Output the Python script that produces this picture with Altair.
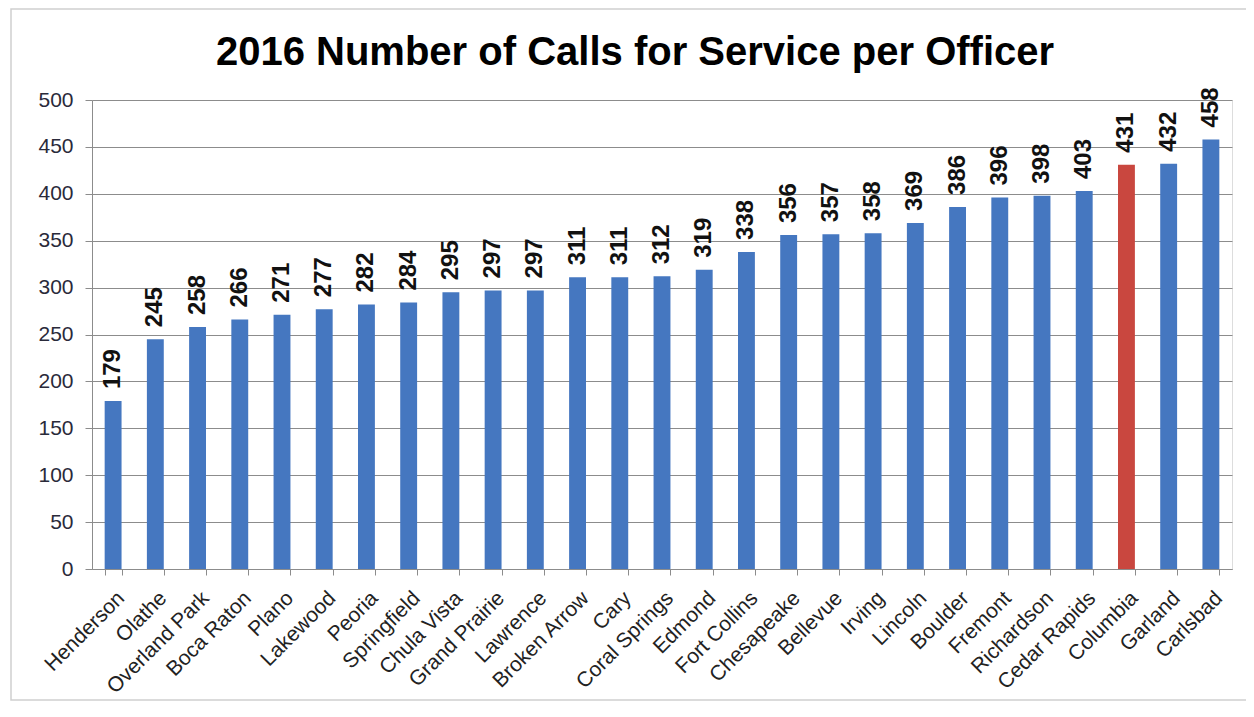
import altair as alt
import pandas as pd

cities = ["Henderson", "Olathe", "Overland Park", "Boca Raton", "Plano", "Lakewood",
          "Peoria", "Springfield", "Chula Vista", "Grand Prairie", "Lawrence",
          "Broken Arrow", "Cary", "Coral Springs", "Edmond", "Fort Collins",
          "Chesapeake", "Bellevue", "Irving", "Lincoln", "Boulder", "Fremont",
          "Richardson", "Cedar Rapids", "Columbia", "Garland", "Carlsbad"]
calls = [179, 245, 258, 266, 271, 277, 282, 284, 295, 297, 297, 311, 311, 312, 319,
         338, 356, 357, 358, 369, 386, 396, 398, 403, 431, 432, 458]
highlight = "Columbia"
title_text = "2016 Number of Calls for Service per Officer"

df = pd.DataFrame({"city": cities, "calls": calls})
df["hl"] = df["city"].apply(lambda c: "yes" if c == highlight else "no")
single = pd.DataFrame({"t": [title_text]})

FONT = "Liberation Sans"
W, H = 1140, 469

xenc = alt.X("city:N", sort=cities, title=None,
             scale=alt.Scale(paddingInner=0.6, paddingOuter=0.3),
             axis=alt.Axis(labelAngle=-45, labelAlign="right", labelBaseline="top",
                           labelFontSize=21, labelFont=FONT, labelColor="#222222",
                           labelPadding=12, tickBand="extent", tickSize=6,
                           tickColor="#8c8c8c", domainColor="#8c8c8c", grid=False))

yenc = alt.Y("calls:Q", title=None,
             scale=alt.Scale(domain=[0, 500], nice=False),
             axis=alt.Axis(values=list(range(0, 501, 50)), labelFontSize=21,
                           labelFont=FONT, labelColor="#2a2a3a", labelPadding=12,
                           tickSize=7, tickColor="#8c8c8c", domainColor="#8c8c8c",
                           gridColor="#8c8c8c", gridWidth=1))

bars = alt.Chart(df).mark_bar().encode(
    x=xenc, y=yenc,
    color=alt.Color("hl:N", scale=alt.Scale(domain=["no", "yes"],
                                            range=["#4577c0", "#c9473f"]), legend=None),
)

labels = alt.Chart(df).mark_text(
    angle=270, align="left", baseline="middle", dx=12,
    font=FONT, fontSize=24, fontWeight="bold", color="#111111",
).encode(x=alt.X("city:N", sort=cities), y="calls:Q", text="calls:Q")

frame = alt.Chart(single).mark_rect(fill=None, stroke="#cfcfcf", strokeWidth=1.5,
                                    clip=False).encode(
    x=alt.value(-81), x2=alt.value(W + 40),
    y=alt.value(-91), y2=alt.value(H + 131),
)

title = alt.Chart(single).mark_text(
    font=FONT, fontSize=40, fontWeight="bold", color="#000000",
    align="center", baseline="middle",
).encode(x=alt.value(W / 2 - 27), y=alt.value(-47), text="t:N")

chart = alt.layer(frame, bars, labels, title).properties(
    width=W, height=H,
    autosize=alt.AutoSizeParams(type="none"),
    padding={"left": 84, "top": 92, "right": 14, "bottom": 132},
).configure_view(stroke=None).configure(background="white")

chart.save("out.html", embed_options={"renderer": "svg", "actions": False})
